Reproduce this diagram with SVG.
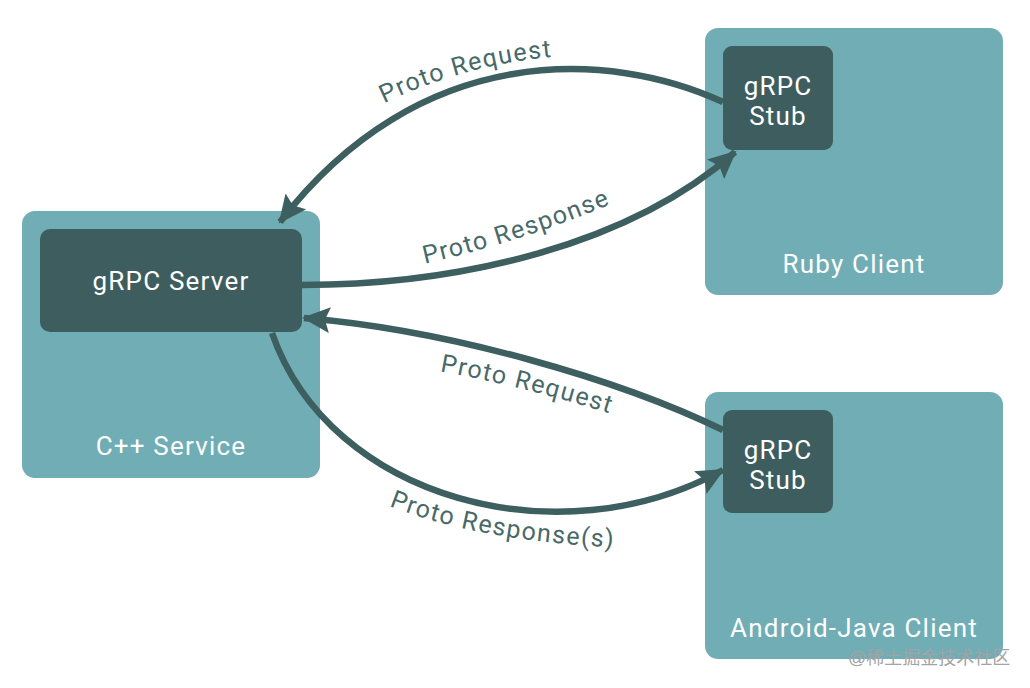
<svg xmlns="http://www.w3.org/2000/svg" width="1030" height="688" viewBox="0 0 1030 688">
<style>
.outer{fill:#70adb4}
.inner{fill:#3e5d5e}
.wt{fill:#ffffff;font-family:Roboto,"Liberation Sans",sans-serif;font-size:26px;text-anchor:middle;letter-spacing:1.2px}
.conn{fill:none;stroke:#3e5f5f;stroke-width:6.5}
.lbl{fill:#476968;font-family:Roboto,"Liberation Sans",sans-serif;font-size:25px;text-anchor:middle;letter-spacing:1.4px}
.wm{fill:#a0a4a6;font-family:"Liberation Sans","Noto Sans CJK SC",sans-serif;font-size:18px}
</style>
<defs>
<marker id="a" viewBox="0 0 28 26" refX="26" refY="13" markerWidth="28" markerHeight="26" orient="auto" markerUnits="userSpaceOnUse">
<path d="M0,0 L28,13 L0,26 L5,13 Z" fill="#3e5f5f"/>
</marker>
<path id="t1" d="M360,116 Q460,60 580,55"/>
<path id="t2" d="M405,268 Q520,244 630,196"/>
<path id="t3" d="M420,368 Q520,384 630,420"/>
<path id="t4" d="M375,500 Q470,542 630,548"/>
</defs>
<g id="cpp-service">
<rect class="outer" x="22" y="211" width="298" height="267" rx="13"/>
<text class="wt" x="171" y="455">C++ Service</text>
</g>
<g id="grpc-server">
<rect class="inner" x="40" y="229" width="262" height="103" rx="10"/>
<text class="wt" x="171" y="290">gRPC Server</text>
</g>
<g id="ruby-client">
<rect class="outer" x="705" y="28" width="298" height="267" rx="13"/>
<text class="wt" x="854" y="273">Ruby Client</text>
</g>
<g id="ruby-stub">
<rect class="inner" x="723" y="46" width="110" height="104" rx="9"/>
<text class="wt" x="778" y="95">gRPC</text>
<text class="wt" x="778" y="125">Stub</text>
</g>
<g id="android-client">
<rect class="outer" x="705" y="392" width="298" height="267" rx="13"/>
<text class="wt" x="854" y="637">Android-Java Client</text>
</g>
<g id="android-stub">
<rect class="inner" x="723" y="410" width="110" height="103" rx="9"/>
<text class="wt" x="778" y="459">gRPC</text>
<text class="wt" x="778" y="489">Stub</text>
</g>
<g id="connectors">
<path class="conn" d="M723,102 C610,50 420,40 280,222" marker-end="url(#a)"/>
<path class="conn" d="M302,285 C460,285 630,245 735,152" marker-end="url(#a)"/>
<path class="conn" d="M723,430 C620,380 450,330 304,318" marker-end="url(#a)"/>
<path class="conn" d="M272,333 C330,500 560,560 723,470" marker-end="url(#a)"/>
<text class="lbl"><textPath href="#t1" startOffset="50%">Proto Request</textPath></text>
<text class="lbl"><textPath href="#t2" startOffset="50%">Proto Response</textPath></text>
<text class="lbl"><textPath href="#t3" startOffset="50%">Proto Request</textPath></text>
<text class="lbl"><textPath href="#t4" startOffset="50%">Proto Response(s)</textPath></text>
</g>
<text class="wm" x="848" y="664">@稀土掘金技术社区</text>
</svg>
